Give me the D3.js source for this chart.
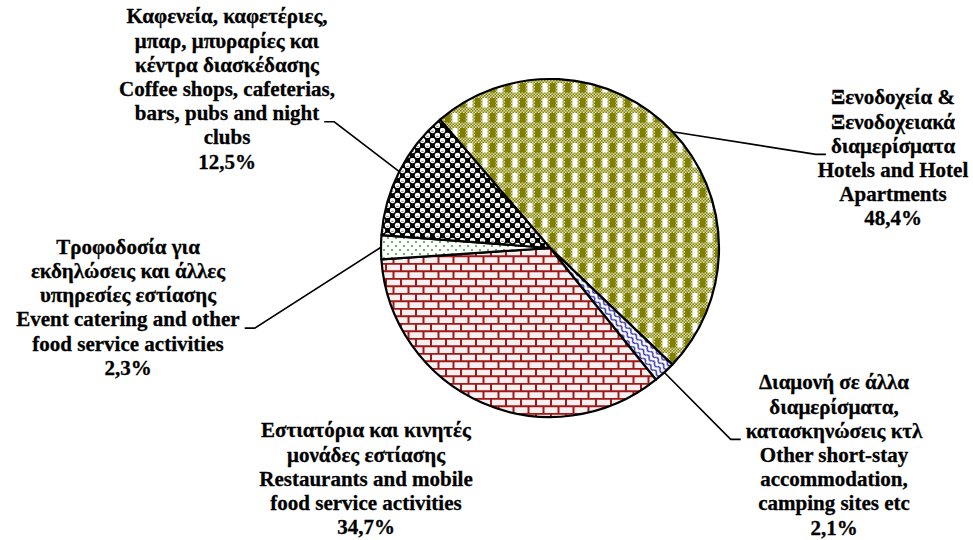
<!DOCTYPE html>
<html>
<head>
<meta charset="utf-8">
<script src="https://cdn.jsdelivr.net/npm/d3@7"></script>
<style>
  body { margin: 0; background: #fff; }
</style>
</head>
<body>
<div id="chart"></div>
<script>
// slice order, clockwise from the hotels slice
var categoriesGr = [
    ["Ξενοδοχεία &", "Ξενοδοχειακά", "διαμερίσματα"],
    ["Διαμονή σε άλλα", "διαμερίσματα,", "κατασκηνώσεις κτλ"],
    ["Εστιατόρια και κινητές", "μονάδες εστίασης"],
    ["Τροφοδοσία για", "εκδηλώσεις και άλλες", "υπηρεσίες εστίασης"],
    ["Καφενεία, καφετέριες,", "μπαρ, μπυραρίες και", "κέντρα διασκέδασης"]
];
var categoriesEn = [
    ["Hotels and Hotel", "Apartments"],
    ["Other short-stay", "accommodation,", "camping sites etc"],
    ["Restaurants and mobile", "food service activities"],
    ["Event catering and other", "food service activities"],
    ["Coffee shops, cafeterias,", "bars, pubs and night", "clubs"]
];
var values = [48.4, 2.1, 34.7, 2.3, 12.5];
var valueLabels = ["48,4%", "2,1%", "34,7%", "2,3%", "12,5%"];
var patterns = ["plaid", "wave", "brick", "dots", "sphere"];

window.app = {
    init: function () {
        var W = 973, H = 540;
        var cx = 550, cy = 248, R = 169;
        var lineH = 24.2;
        var font = "'Liberation Serif', 'Times New Roman', Tinos, 'DejaVu Serif', serif";

        // where each label block sits and which line gets the leader tick
        var labelLayout = [
            {x: 893, y: 97, tick: 2, side: "left"},
            {x: 834, y: 382, tick: 2, side: "left"},
            {x: 366, y: 430, tick: -1},
            {x: 128, y: 246.5, tick: 3, side: "right"},
            {x: 227, y: 16, tick: 4, side: "right"}
        ];

        var svg = d3.select("#chart").append("svg")
            .attr("width", W)
            .attr("height", H);

        var defs = svg.append("defs");

        // small olive/white checker used inside the plaid bands
        var p = defs.append("pattern").attr("id", "olivedot")
            .attr("patternUnits", "userSpaceOnUse").attr("width", 3).attr("height", 3);
        p.append("rect").attr("width", 3).attr("height", 3).attr("fill", "#e0e0b8");
        p.append("rect").attr("width", 1.5).attr("height", 1.5).attr("fill", "#808000");
        p.append("rect").attr("x", 1.5).attr("y", 1.5).attr("width", 1.5).attr("height", 1.5).attr("fill", "#808000");

        // olive plaid
        p = defs.append("pattern").attr("id", "plaid")
            .attr("patternUnits", "userSpaceOnUse").attr("width", 15).attr("height", 15);
        p.append("rect").attr("width", 15).attr("height", 15).attr("fill", "url(#olivedot)");
        p.append("rect").attr("x", 0).attr("y", 0).attr("width", 5.5).attr("height", 9.5).attr("fill", "#808000");
        p.append("rect").attr("x", 7.5).attr("y", 0).attr("width", 5).attr("height", 9.5).attr("fill", "#ffffff");

        // blue waves, turned along the slice
        p = defs.append("pattern").attr("id", "wave")
            .attr("patternUnits", "userSpaceOnUse").attr("width", 8).attr("height", 5)
            .attr("patternTransform", "rotate(47)");
        p.append("rect").attr("width", 8).attr("height", 5).attr("fill", "#fff");
        p.append("path").attr("d", "M0,2.5 Q2,0 4,2.5 T8,2.5")
            .attr("fill", "none").attr("stroke", "#2b2ba8").attr("stroke-width", 1.3);

        // red bricks
        p = defs.append("pattern").attr("id", "brick")
            .attr("patternUnits", "userSpaceOnUse").attr("width", 15).attr("height", 15);
        p.append("rect").attr("width", 15).attr("height", 15).attr("fill", "#f6f0f0");
        p.append("path")
            .attr("d", "M0,0.75H15M0,8.25H15M1,0V8.25M8.5,8.25V15")
            .attr("stroke", "#a01818").attr("stroke-width", 2).attr("fill", "none");

        // green dots
        p = defs.append("pattern").attr("id", "dots")
            .attr("patternUnits", "userSpaceOnUse").attr("width", 8).attr("height", 8);
        p.append("rect").attr("width", 8).attr("height", 8).attr("fill", "#fff");
        p.append("circle").attr("cx", 2).attr("cy", 2).attr("r", 1).attr("fill", "#2e9e2e");
        p.append("circle").attr("cx", 6).attr("cy", 6).attr("r", 1).attr("fill", "#2e9e2e");

        // black and white spheres
        p = defs.append("pattern").attr("id", "sphere")
            .attr("patternUnits", "userSpaceOnUse").attr("width", 10).attr("height", 10);
        p.append("rect").attr("width", 10).attr("height", 10).attr("fill", "#000");
        [[2.5, 2.5], [7.5, 7.5]].forEach(function (c) {
            p.append("circle").attr("cx", c[0]).attr("cy", c[1]).attr("r", 2.7).attr("fill", "#fff");
            p.append("path").attr("d", "M" + (c[0] - 1.2) + "," + (c[1] + 0.8) + "h2.4")
                .attr("stroke", "#555").attr("stroke-width", 0.8);
        });

        var start = -40.6 * Math.PI / 180;
        var pie = d3.pie().sort(null).value(function (d) { return d; })
            .startAngle(start).endAngle(start + 2 * Math.PI);
        var arcs = pie(values);

        var arc = d3.arc().innerRadius(0).outerRadius(R);
        var edge = d3.arc().innerRadius(R).outerRadius(R);

        var plane = svg.append("g")
            .attr("transform", "translate(" + cx + "," + cy + ")");

        plane.selectAll("path.slice")
            .data(arcs)
            .enter()
            .append("path")
            .attr("class", "slice")
            .attr("d", arc)
            .attr("fill", function (d, i) { return "url(#" + patterns[i] + ")"; })
            .attr("stroke", "#000")
            .attr("stroke-width", 2.2)
            .attr("stroke-linejoin", "round");

        // labels
        arcs.forEach(function (d, i) {
            var lay = labelLayout[i];
            var lines = categoriesGr[i].concat(categoriesEn[i]).concat([valueLabels[i]]);
            var g = svg.append("g");
            var texts = lines.map(function (s, k) {
                return g.append("text")
                    .attr("x", lay.x)
                    .attr("y", lay.y + k * lineH)
                    .attr("dy", "0.35em")
                    .attr("text-anchor", "middle")
                    .attr("font-family", font)
                    .attr("font-weight", "bold")
                    .attr("font-size", 21)
                    .attr("fill", "#000")
                    .attr("stroke", "#000")
                    .attr("stroke-width", 0.3)
                    .text(s);
            });

            if (lay.tick < 0) return;
            var t = texts[lay.tick];
            var w = t.node().getComputedTextLength();
            var ty = lay.y + lay.tick * lineH + 9;
            var x0, x1;
            if (lay.side === "left") {
                x0 = lay.x - w / 2 - 5;
                x1 = x0 - 10;
            } else {
                x0 = lay.x + w / 2 + 5;
                x1 = x0 + 10;
            }
            var c = edge.centroid(d);
            svg.append("path")
                .attr("d", "M" + x0 + "," + ty + "L" + x1 + "," + ty +
                           "L" + (cx + c[0]) + "," + (cy + c[1]))
                .attr("fill", "none")
                .attr("stroke", "#000")
                .attr("stroke-width", 1.6);
        });
    }
};

window.app.init();
</script>
</body>
</html>
